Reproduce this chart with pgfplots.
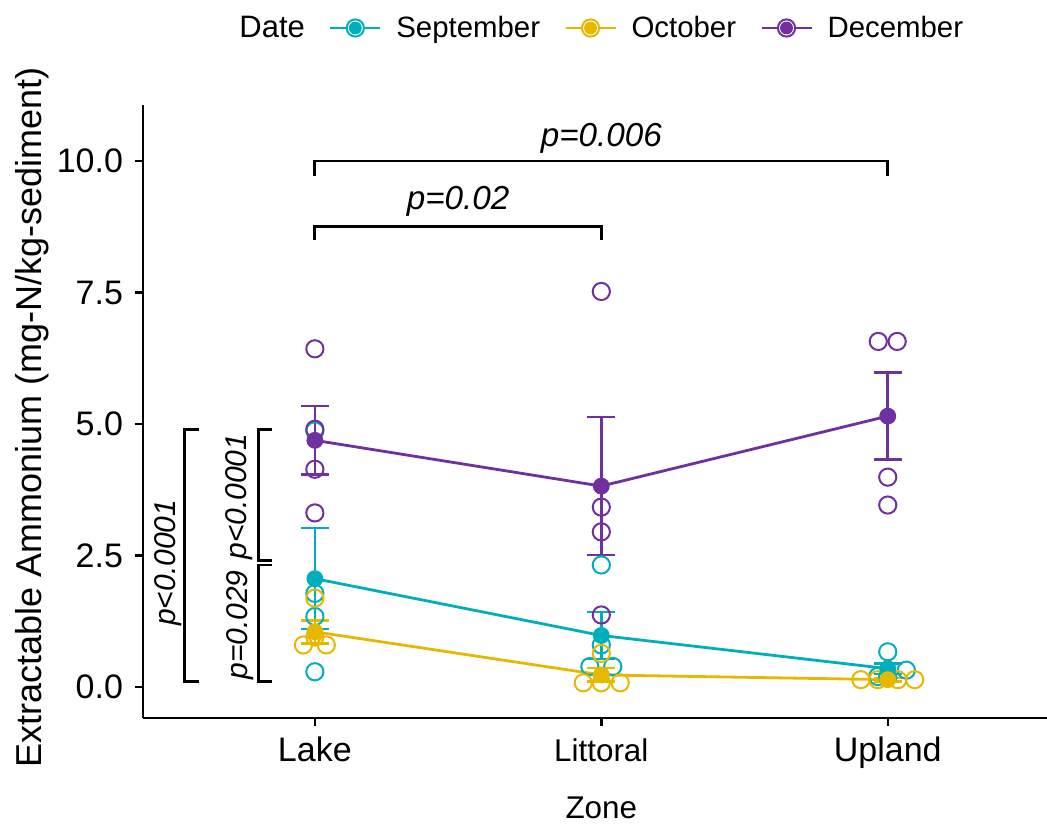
\documentclass[border=0pt]{standalone}
\usepackage{fontspec}
\setmainfont{Liberation Sans}
\setsansfont{Liberation Sans}
\usepackage{pgfplots}
\pgfplotsset{compat=1.18}

\definecolor{sepc}{HTML}{00AFBB}
\definecolor{octc}{HTML}{E7B800}
\definecolor{decc}{HTML}{7030A0}

\newcommand{\tickfont}{\fontsize{17}{20}\selectfont}
\newcommand{\pfont}{\fontsize{16.6}{19}\selectfont\itshape}
\newcommand{\vpfont}{\fontsize{15}{18}\selectfont\itshape}

% legend key: line, open circle, filled mean dot
\pgfplotsset{
  datekey/.style={legend image code/.code={
    \draw[#1, line width=1.4pt] (0pt,0pt) -- (25pt,0pt);
    \draw[#1, line width=1pt, fill=white] (12.5pt,0pt) circle (4.3pt);
    \fill[#1] (12.5pt,0pt) circle (3pt);
    \path[draw=none, fill=none] (30pt,-1pt) rectangle (31pt,1pt);}},
  rawpts/.style={only marks, mark=o, mark size=4.3pt, mark options={line width=1pt}, forget plot},
  meanline/.style={line width=1.4pt, mark=*, mark size=3.5pt, forget plot,
    error bars/y dir=both, error bars/y explicit,
    error bars/error mark=|,
    error bars/error bar style={line width=1.3pt},
    error bars/error mark options={mark size=7pt, line width=1.3pt}},
}

\begin{document}
\begin{tikzpicture}
\useasboundingbox (-71.5pt,-53.5pt) rectangle (452pt,359pt);
\begin{axis}[
    scale only axis,
    width=458.3pt, height=306.5pt,
    xmin=0.4, xmax=3.6,
    ymin=-0.589, ymax=11.065,
    axis lines*=left,
    axis line style={line width=1.2pt, black},
    tick style={line width=1.2pt, black},
    tick align=outside,
    major tick length=4pt,
    xtick={1,2,3},
    xticklabels={Lake, {\fontsize{15.7}{18}\selectfont Littoral}, Upland},
    ytick={0,2.5,5,7.5,10},
    yticklabels={0.0,2.5,5.0,7.5,10.0},
    ticklabel style={font=\tickfont},
    x tick label style={anchor=base, yshift=-17.5pt},
    y tick label style={anchor=east, xshift=-2.5pt},
    xlabel={Zone},
    xlabel style={font=\fontsize{15.7}{18}\selectfont, at={(axis description cs:0.5,0)}, anchor=base, yshift=-50pt},
    ylabel={Extractable Ammonium (mg-N/kg-sediment)},
    ylabel style={font=\fontsize{18}{21}\selectfont, at={(axis description cs:0,0.5)}, anchor=base, yshift=50.5pt, xshift=-3pt},
    clip=false,
    legend style={draw=none, fill=none, at={(axis description cs:0.5,1)}, anchor=center, yshift=38.5pt,
      font=\fontsize{14.7}{17}\selectfont,
      /tikz/every even column/.append style={column sep=10pt}},
    legend columns=-1,
]
% raw observations
\addplot[rawpts, color=sepc] coordinates {
  (1,4.87) (1,1.78) (1,1.34) (1,0.29)
  (2,2.32) (2,0.80) (1.96,0.39) (2.04,0.39)
  (3,0.67) (3.065,0.32) (3,0.20) (2.965,0.20)
};
\addplot[rawpts, color=octc] coordinates {
  (1,1.69) (0.96,0.80) (1.04,0.80) (1,0.95)
  (2,0.64) (1.937,0.08) (2,0.08) (2.066,0.08)
  (2.906,0.14) (2.965,0.14) (3.035,0.14) (3.094,0.14)
};
\addplot[rawpts, color=decc] coordinates {
  (1,6.43) (1,4.90) (1,4.14) (1,3.31)
  (2,7.52) (2,3.42) (2,2.95) (2,1.37)
  (2.967,6.57) (3.033,6.57) (3,3.99) (3,3.46)
};
% means +- SE
\addplot[color=sepc, meanline] coordinates {
  (1,2.06) +- (0,0.96) (2,0.98) +- (0,0.45) (3,0.35) +- (0,0.10)
};
\addplot[color=octc, meanline] coordinates {
  (1,1.05) +- (0,0.22) (2,0.23) +- (0,0.13) (3,0.14) +- (0,0.03)
};
\addplot[color=decc, meanline] coordinates {
  (1,4.69) +- (0,0.65) (2,3.82) +- (0,1.31) (3,5.15) +- (0,0.83)
};

% legend
\addlegendimage{empty legend}
\addlegendentry{\fontsize{15.5}{18}\selectfont Date\hspace{10pt}}
\addlegendimage{datekey=sepc}
\addlegendentry{September}
\addlegendimage{datekey=octc}
\addlegendentry{October}
\addlegendimage{datekey=decc}
\addlegendentry{December}

% significance brackets
\draw[line width=1.4pt] (axis cs:1,9.71) -- (axis cs:1,10) -- (axis cs:3,10) -- (axis cs:3,9.71);
\node[font=\pfont, anchor=base] at (axis cs:2,10.285) {p=0.006};
\draw[line width=1.4pt] (axis cs:1,8.5) -- (axis cs:1,8.75) -- (axis cs:2,8.75) -- (axis cs:2,8.5);
\node[font=\pfont, anchor=base] at (axis cs:1.5,9.07) {p=0.02};

\draw[line width=1.4pt] (axis cs:0.594,4.90) -- (axis cs:0.545,4.90) -- (axis cs:0.545,0.10) -- (axis cs:0.594,0.10);
\node[font=\vpfont, anchor=base, rotate=90] at (axis cs:0.514,2.36) {p<0.0001};
\draw[line width=1.4pt] (axis cs:0.85,4.90) -- (axis cs:0.804,4.90) -- (axis cs:0.804,2.41) -- (axis cs:0.85,2.41);
\node[font=\vpfont, anchor=base, rotate=90] at (axis cs:0.762,3.62) {p<0.0001};
\draw[line width=1.4pt] (axis cs:0.85,2.32) -- (axis cs:0.804,2.32) -- (axis cs:0.804,0.10) -- (axis cs:0.85,0.10);
\node[font=\vpfont, anchor=base, rotate=90] at (axis cs:0.766,1.18) {p=0.029};
\end{axis}
\end{tikzpicture}
\end{document}
